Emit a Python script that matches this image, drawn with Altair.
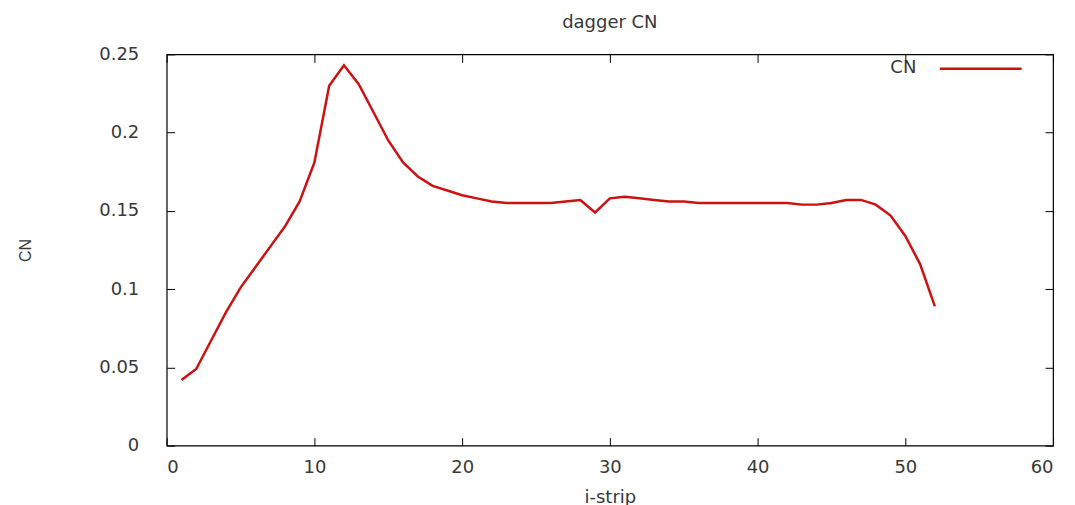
import altair as alt
import pandas as pd

strip = list(range(1, 53))
cn = [0.042, 0.049, 0.067, 0.085, 0.101, 0.114, 0.127, 0.140, 0.156, 0.181,
      0.230, 0.243, 0.231, 0.213, 0.195, 0.181, 0.172, 0.166, 0.163, 0.160,
      0.158, 0.156, 0.155, 0.155, 0.155, 0.155, 0.156, 0.157, 0.149, 0.158,
      0.159, 0.158, 0.157, 0.156, 0.156, 0.155, 0.155, 0.155, 0.155, 0.155,
      0.155, 0.155, 0.154, 0.154, 0.155, 0.157, 0.157, 0.154, 0.147, 0.134,
      0.116, 0.089]
series = ["CN"] * len(strip)
x_ticks = [0, 10, 20, 30, 40, 50, 60]
y_ticks = [0, 0.05, 0.1, 0.15, 0.2, 0.25]

df = pd.DataFrame({"strip": strip, "cn": cn, "series": series})

FONT = "DejaVu Sans"
FS = 18
TXT = "#383838"
RED = "#cc1111"

xs = alt.Scale(domain=[0, 60], nice=False, zero=False)
ys = alt.Scale(domain=[0, 0.25], nice=False)

def ax(orient, labels, title=None, offset=0, tick=0, fmt=None, values=None, pad=0,
       tpad=0, tfont=FONT, tsize=FS):
    kw = dict(orient=orient, values=values, grid=False, domain=False,
              labels=labels, tickSize=tick, tickColor="black", tickWidth=1,
              title=title, offset=offset)
    if labels:
        kw.update(labelPadding=pad, labelFont=FONT, labelFontSize=FS, labelColor=TXT)
        if fmt:
            kw["format"] = fmt
    if title:
        kw.update(titlePadding=tpad, titleFont=tfont, titleFontSize=tsize,
                  titleColor=TXT, titleFontWeight="normal")
    if tick == 0:
        kw["ticks"] = False
    return alt.Axis(**kw)

base = alt.Chart(df)

main = base.mark_line(strokeWidth=2.5).encode(
    x=alt.X("strip:Q", scale=xs,
            axis=ax("bottom", True, "i-strip", values=x_ticks, pad=12.5, tpad=12)),
    y=alt.Y("cn:Q", scale=ys,
            axis=ax("left", True, "CN", values=y_ticks, pad=28, tpad=65, fmt="~g",
                    tfont="Liberation Sans", tsize=16)),
    color=alt.Color("series:N", scale=alt.Scale(range=[RED]),
                    legend=alt.Legend(title=None, orient="none", legendX=773, legendY=-28,
                                      symbolType="stroke", symbolSize=6724,
                                      symbolStrokeWidth=2.5, labelExpr="''",
                                      labelFontSize=16, padding=0)),
)

ticks_in = base.mark_point(opacity=0).encode(
    x=alt.X("strip:Q", scale=xs, axis=ax("bottom", False, offset=-8, tick=8, values=x_ticks)),
    y=alt.Y("cn:Q", scale=ys, axis=ax("left", False, offset=-8, tick=8, values=y_ticks)),
    shape=alt.Shape("series:N",
                    legend=alt.Legend(title=None, orient="none", legendX=707, legendY=5,
                                      symbolSize=1, symbolOpacity=0, labelFont=FONT,
                                      labelFontSize=FS, labelColor=TXT, labelOffset=0,
                                      padding=0)),
)

ticks_out = base.mark_point(opacity=0).encode(
    x=alt.X("strip:Q", scale=xs, axis=ax("top", False, offset=-8, tick=8, values=x_ticks)),
    y=alt.Y("cn:Q", scale=ys, axis=ax("right", False, offset=-8, tick=8, values=y_ticks)),
)

chart = alt.layer(main, ticks_in, ticks_out).resolve_axis(
    x="independent", y="independent"
).properties(
    width=888, height=392,
    title=alt.TitleParams("dagger CN", font=FONT, fontSize=FS, fontWeight="normal",
                          color=TXT, anchor="middle", offset=-6),
    padding={"left": 17, "top": 14, "right": 21, "bottom": 5},
).configure_view(stroke="black", strokeWidth=1.2)

chart.save("out.html", embed_options={"renderer": "svg", "actions": False})
